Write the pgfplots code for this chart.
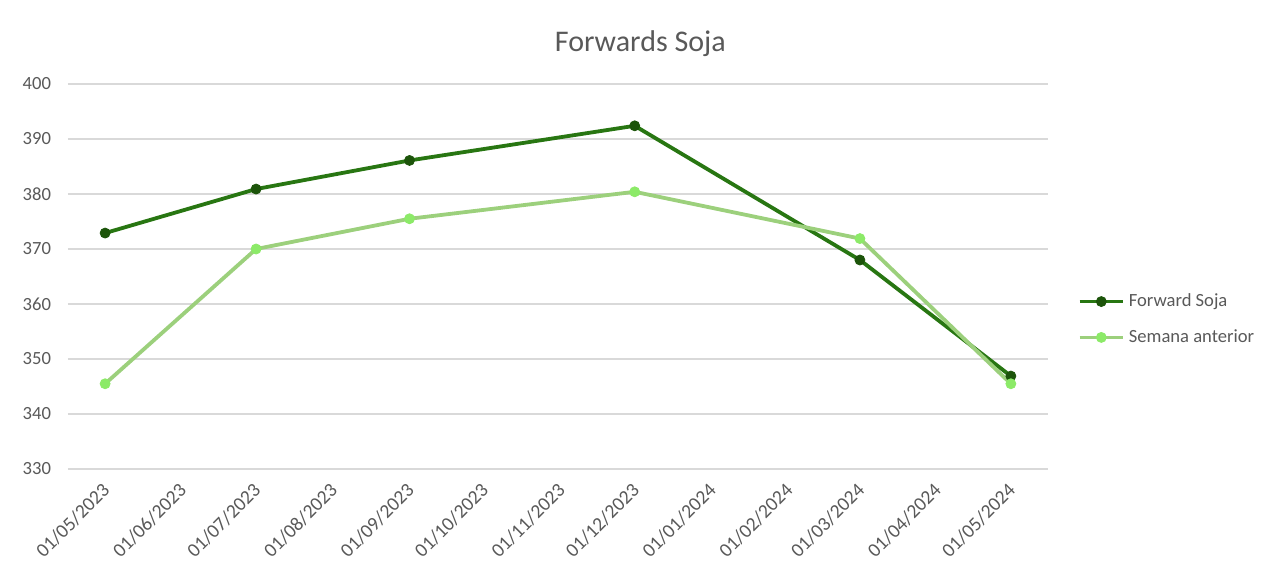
\documentclass[border=0pt]{standalone}
\usepackage{pgfplots}
\pgfplotsset{compat=1.18}
\usepackage{fontspec}
\setmainfont{Carlito}
\definecolor{fwd}{RGB}{40,118,18}
\definecolor{fwdmark}{RGB}{28,84,10}
\definecolor{sem}{RGB}{156,208,124}
\definecolor{semmark}{RGB}{140,234,104}
\definecolor{txt}{RGB}{89,89,89}
\definecolor{grd}{RGB}{217,217,217}
\begin{document}
\begin{tikzpicture}
\path[use as bounding box] (-34pt,-52.5pt) rectangle (604pt,234.5pt);
\begin{axis}[
  scale only axis,
  width=490pt, height=192.5pt,
  xmin=-15, xmax=381,
  ymin=330, ymax=400,
  ytick={330,340,350,360,370,380,390,400},
  xtick={0,31,61,92,123,153,184,214,245,276,305,336,366},
  xticklabels={01/05/2023,01/06/2023,01/07/2023,01/08/2023,01/09/2023,01/10/2023,01/11/2023,01/12/2023,01/01/2024,01/02/2024,01/03/2024,01/04/2024,01/05/2024},
  ymajorgrids,
  grid style={grd, line width=0.6pt},
  axis line style={draw=none},
  major tick length=0pt,
  /pgf/number format/assume math mode=true,
  /pgf/number format/1000 sep={},
  tick label style={font=\fontsize{9.3}{11}\selectfont, text=txt},
  yticklabel style={xshift=-5pt},
  xticklabel style={xshift=-2pt, yshift=-1.5pt, rotate=45, anchor=north east, font=\fontsize{9.8}{11}\selectfont},
  title={Forwards Soja},
  title style={at={(rel axis cs:0.584,1)}, anchor=center, yshift=14pt, font=\fontsize{15}{17}\selectfont, text=txt},
  legend style={draw=none, fill=none, at={(rel axis cs:1.03,0.467)}, anchor=north west, font=\fontsize{9.3}{11}\selectfont, text=txt, row sep=6pt, inner sep=0pt},
  legend cell align=left,
  legend image code/.code={\draw[mark repeat=2,mark phase=2,#1] plot coordinates {(0cm,0cm) (0.38cm,0cm) (0.76cm,0cm)};},
  clip=false,
]
\addplot[fwd, line width=1.9pt, mark=*, mark size=2.5pt, mark options={solid, fill=fwdmark, draw=fwdmark, line width=0.4pt}] coordinates {
 (0,372.9) (61,380.9) (123,386.1) (214,392.4) (305,368.0) (366,346.9)
};
\addlegendentry{Forward Soja}
\addplot[sem, line width=1.9pt, mark=*, mark size=2.5pt, mark options={solid, fill=semmark, draw=semmark, line width=0.4pt}] coordinates {
 (0,345.5) (61,370.0) (123,375.5) (214,380.4) (305,371.9) (366,345.5)
};
\addlegendentry{Semana anterior}
\end{axis}
\end{tikzpicture}
\end{document}
